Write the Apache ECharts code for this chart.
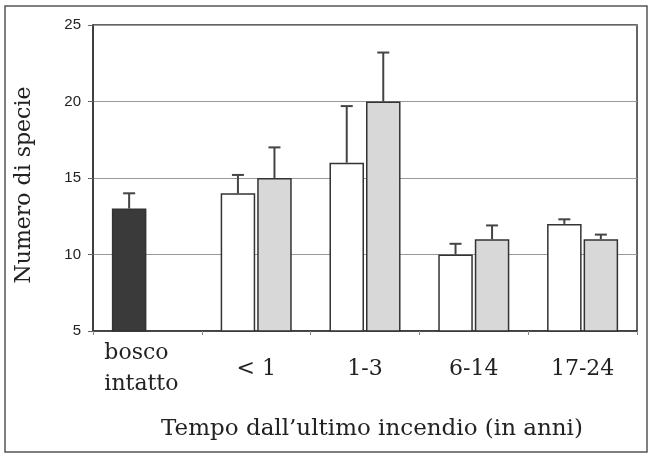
<!DOCTYPE html>
<html>
<head>
<meta charset="utf-8">
<script src="https://cdn.jsdelivr.net/npm/echarts@6/dist/echarts.min.js"></script>
<style>
html,body{margin:0;padding:0;background:#fff;}
#chart{width:649px;height:454px;}
</style>
</head>
<body>
<div id="chart"></div>
<script>
const categories = ['bosco\nintatto', '< 1', '1-3', '6-14', '17-24'];
const seriesA = [13, 14, 16, 10, 12];      // first bar (dark for bosco intatto, white otherwise)
const seriesB = [null, 15, 20, 11, 11];    // second bar (grey)
const errTopA = [14, 15.2, 19.7, 10.7, 12.3];
const errTopB = [null, 17, 23.2, 11.9, 11.3];
const yMin = 5, yMax = 25, yStep = 5;

const CAT_GAP = 0.347, BAR_GAP = 0.058;

const barDataA = seriesA.map((v, i) => i === 0
  ? { value: v, itemStyle: { color: '#3a3a3a' } }
  : { value: v });

const errData = [];
seriesA.forEach((v, i) => { if (v != null && errTopA[i] != null) errData.push([i, v, errTopA[i], 0]); });
seriesB.forEach((v, i) => { if (v != null && errTopB[i] != null) errData.push([i, v, errTopB[i], 1]); });

const serif = 'DejaVu Serif';
const labFont = { color: '#222', fontFamily: serif, fontSize: 22, lineHeight: 31 };
const chart = echarts.init(document.getElementById('chart'));
chart.setOption({
  animation: false,
  backgroundColor: '#fff',
  grid: { left: 93, right: 12, top: 25, bottom: 123, show: true, borderColor: '#333', borderWidth: 1.5, backgroundColor: 'transparent' },
  graphic: [{
    type: 'rect', shape: { x: 5, y: 6, width: 642, height: 446 },
    style: { fill: 'none', stroke: '#555', lineWidth: 1.5 }, silent: true, z: -1
  }],
  xAxis: {
    type: 'category', data: categories,
    axisLine: { lineStyle: { color: '#333', width: 1.5 } },
    axisTick: { show: true, length: 4, lineStyle: { color: '#888' } },
    axisLabel: {
      color: '#222', fontFamily: serif, fontSize: 22, lineHeight: 31, margin: 38, verticalAlign: 'middle', interval: 0,
      formatter: function (v, i) {
        if (i === 0) {
          const parts = v.split('\n');
          return '{b|' + parts[0] + '}\n{c|' + parts[1] + '}';
        }
        return v;
      },
      rich: {
        b: Object.assign({ padding: [0, 22, 0, 0] }, labFont),
        c: Object.assign({ padding: [0, 12, 0, 0] }, labFont)
      }
    },
    name: 'Tempo dall\u2019ultimo incendio (in anni)',
    nameLocation: 'middle', nameGap: 87,
    nameTextStyle: { color: '#222', fontFamily: serif, fontSize: 23, padding: [0, 0, 0, 14] }
  },
  yAxis: {
    type: 'value', min: yMin, max: yMax, interval: yStep,
    axisLine: { show: true, lineStyle: { color: '#333', width: 1.5 } },
    axisTick: { show: true, length: 5, lineStyle: { color: '#666' } },
    axisLabel: { color: '#222', fontFamily: 'Liberation Sans', fontSize: 15, margin: 12 },
    splitLine: { show: true, lineStyle: { color: '#999', width: 1 } },
    name: 'Numero di specie', nameLocation: 'middle', nameGap: 58,
    nameTextStyle: { color: '#222', fontFamily: serif, fontSize: 22, padding: [0, 14, 0, 0] }
  },
  series: [
    {
      type: 'bar', data: barDataA, barGap: (BAR_GAP * 100) + '%', barCategoryGap: (CAT_GAP * 100) + '%',
      itemStyle: { color: '#fff', borderColor: '#333', borderWidth: 1.5 }
    },
    {
      type: 'bar', data: seriesB,
      itemStyle: { color: '#d8d8d8', borderColor: '#333', borderWidth: 1.5 }
    },
    {
      type: 'custom', data: errData, z: 3,
      renderItem: function (params, api) {
        const idx = api.value(0), lo = api.value(1), hi = api.value(2), which = api.value(3);
        const w = api.size([1, 0])[0];
        const bw = (w * (1 - CAT_GAP)) / (2 + BAR_GAP);
        const off = (bw * (1 + BAR_GAP)) / 2 * (which === 0 ? -1 : 1);
        const p0 = api.coord([idx, lo]);
        const p1 = api.coord([idx, hi]);
        const x = p0[0] + off;
        const st = { stroke: '#444', lineWidth: 2 };
        return {
          type: 'group', children: [
            { type: 'line', shape: { x1: x, y1: p0[1], x2: x, y2: p1[1] }, style: st },
            { type: 'line', shape: { x1: x - 6, y1: p1[1], x2: x + 6, y2: p1[1] }, style: st }
          ]
        };
      }
    }
  ]
});
</script>
</body>
</html>
